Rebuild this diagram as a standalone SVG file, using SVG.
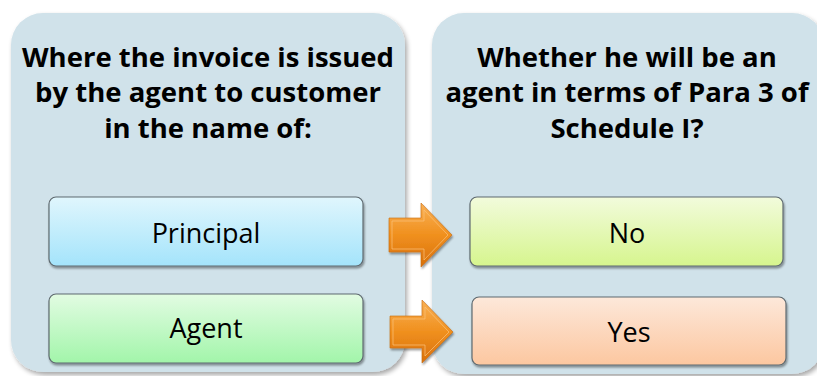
<svg xmlns="http://www.w3.org/2000/svg" width="817" height="376" viewBox="0 0 817 376">
<defs>
<style>
.panel{fill:#D0E2EA}
.title{font-family:"Open Sans","Noto Sans",sans-serif;font-weight:bold;font-size:27.5px;fill:#000;text-anchor:middle}
.lbl{font-family:"Open Sans","Noto Sans",sans-serif;font-size:27px;fill:#000;text-anchor:middle}
.box{stroke:#5f6a70;stroke-width:1.2}
</style>
<filter id="sh" x="-10%" y="-10%" width="120%" height="120%">
<feGaussianBlur in="SourceAlpha" stdDeviation="2.5"/>
<feOffset dx="2" dy="3" result="b"/>
<feComponentTransfer><feFuncA type="linear" slope="0.35"/></feComponentTransfer>
<feMerge><feMergeNode/><feMergeNode in="SourceGraphic"/></feMerge>
</filter>
<filter id="sh2" x="-10%" y="-10%" width="120%" height="130%">
<feGaussianBlur in="SourceAlpha" stdDeviation="1.2"/>
<feOffset dx="1" dy="1.5" result="b"/>
<feComponentTransfer><feFuncA type="linear" slope="0.4"/></feComponentTransfer>
<feMerge><feMergeNode/><feMergeNode in="SourceGraphic"/></feMerge>
</filter>
<linearGradient id="gP" x1="0" y1="0" x2="0" y2="1"><stop offset="0" stop-color="#E0F6FD"/><stop offset="1" stop-color="#A4E4FB"/></linearGradient>
<linearGradient id="gA" x1="0" y1="0" x2="0" y2="1"><stop offset="0" stop-color="#E2FCE2"/><stop offset="1" stop-color="#A2F5AA"/></linearGradient>
<linearGradient id="gN" x1="0" y1="0" x2="0" y2="1"><stop offset="0" stop-color="#F2FBDC"/><stop offset="1" stop-color="#D6F58E"/></linearGradient>
<linearGradient id="gY" x1="0" y1="0" x2="0" y2="1"><stop offset="0" stop-color="#FDE8DA"/><stop offset="1" stop-color="#FCC7A0"/></linearGradient>
<linearGradient id="gO" x1="0" y1="0" x2="0" y2="1"><stop offset="0" stop-color="#F9B155"/><stop offset="0.5" stop-color="#F0901E"/><stop offset="1" stop-color="#D8700C"/></linearGradient>
</defs>

<g id="panel-left">
<rect class="panel" x="11" y="13" width="394" height="359" rx="32" filter="url(#sh)"/>
<text class="title" x="208" y="67">Where the invoice is issued</text>
<text class="title" x="208" y="102">by the agent to customer</text>
<text class="title" x="208" y="138">in the name of:</text>
</g>
<g id="panel-right">
<rect class="panel" x="432" y="13" width="392" height="361" rx="32" filter="url(#sh)"/>
<text class="title" x="627" y="67">Whether he will be an</text>
<text class="title" x="627" y="102">agent in terms of Para 3 of</text>
<text class="title" x="627" y="138">Schedule I?</text>
</g>

<g id="node-principal">
<rect class="box" x="49" y="197" width="314" height="69" rx="7" fill="url(#gP)" filter="url(#sh2)"/>
<text class="lbl" x="206" y="243">Principal</text>
</g>
<g id="node-agent">
<rect class="box" x="49" y="294" width="314" height="69" rx="7" fill="url(#gA)" filter="url(#sh2)"/>
<text class="lbl" x="206" y="338">Agent</text>
</g>
<g id="node-no">
<rect class="box" x="470" y="197" width="313" height="69" rx="7" fill="url(#gN)" filter="url(#sh2)"/>
<text class="lbl" x="627" y="243">No</text>
</g>
<g id="node-yes">
<rect class="box" x="472" y="297" width="314" height="68" rx="7" fill="url(#gY)" filter="url(#sh2)"/>
<text class="lbl" x="629" y="342">Yes</text>
</g>

<g id="connectors">
<g filter="url(#sh2)">
<path d="M389 218 H421 V203 L452 235 L421 267 V252 H389 Z" fill="url(#gO)" stroke="#C86A10" stroke-width="0.6"/>
<path d="M390 316 H422 V300 L453 332 L422 363 V348 H390 Z" fill="url(#gO)" stroke="#C86A10" stroke-width="0.6"/>
</g>
<path d="M392 221 H424 V210 L448 235 L424 260 V249 H392 Z" fill="none" stroke="#FBC27A" stroke-width="1" opacity="0.7"/>
<path d="M393 319 H425 V307 L449 332 L425 356 V345 H393 Z" fill="none" stroke="#FBC27A" stroke-width="1" opacity="0.7"/>
</g>
</svg>
